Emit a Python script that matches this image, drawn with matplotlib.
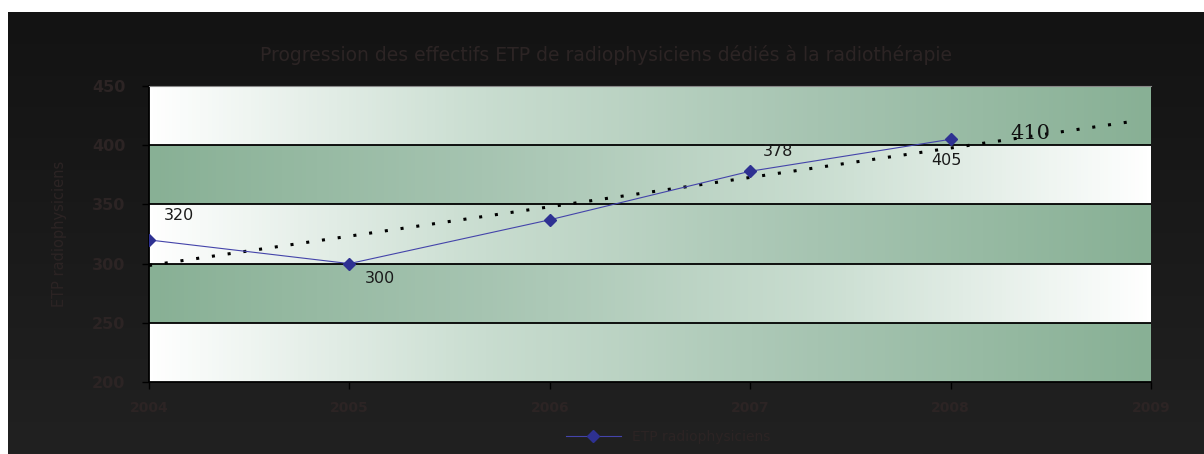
import numpy as np
import matplotlib
matplotlib.use("Agg")
import matplotlib.pyplot as plt
from matplotlib.colors import LinearSegmentedColormap

# effectifs ETP par année
annees = [2004, 2005, 2006, 2007, 2008]
effectifs = [320, 300, 337, 378, 405]
etiquettes = {2004: "320", 2005: "300", 2007: "378", 2008: "405"}
xticks = [2004, 2005, 2006, 2007, 2008, 2009]
yticks = [200, 250, 300, 350, 400, 450]
prevision = 410

fig = plt.figure(figsize=(12.04, 4.54), dpi=100)
fig.patch.set_facecolor("white")

# fond sombre en dégradé vertical
bg = fig.add_axes([8 / 1204, 0, 1 - 8 / 1204, (454 - 12) / 454], zorder=-10)
grad = np.linspace(0, 1, 256).reshape(-1, 1)
bg_cmap = LinearSegmentedColormap.from_list("bg", ["#131313", "#212121"])
bg.imshow(grad, aspect="auto", cmap=bg_cmap, extent=[0, 1, 1, 0])
bg.set_axis_off()

ax = fig.add_axes([149 / 1204, (454 - 382) / 454, (1151 - 149) / 1204, (382 - 86) / 454])
ax.set_xlim(2004, 2009)
ax.set_ylim(200, 450)

# bandes horizontales en dégradé blanc / vert
band_cmap = LinearSegmentedColormap.from_list("band", ["#ffffff", "#c9ddd0", "#a6c4b1", "#88b095"])
hgrad = np.linspace(0, 1, 256).reshape(1, -1)
for i, y0 in enumerate(yticks[:-1]):
    g = hgrad if i % 2 == 0 else hgrad[:, ::-1]
    ax.imshow(g, aspect="auto", cmap=band_cmap, extent=[2004, 2009, y0, y0 + 50], zorder=0)

for y in yticks[1:-1]:
    ax.axhline(y, color="black", lw=1.3, zorder=1)

ax.plot(annees, effectifs, color="#4444aa", lw=0.8, marker="D", ms=6,
        mfc="#2e3192", mec="#2e3192", zorder=4, label="ETP radiophysiciens")

# tendance linéaire prolongée
coef = np.polyfit(annees, effectifs, 1)
xt = np.array([2004, 2008.93])
ax.plot(xt, np.polyval(coef, xt), color="black", lw=2.2, ls=(0, (1, 4.2)), zorder=3)
ax.text(2008.4, prevision, str(prevision), family="DejaVu Serif", fontsize=15,
        ha="center", va="center", color="#111111", zorder=5)

offsets = {2004: (0.15, 21), 2005: (0.15, -13), 2007: (0.14, 17), 2008: (-0.02, -18)}
for x, y in zip(annees, effectifs):
    if x in etiquettes:
        dx, dy = offsets[x]
        ax.text(x + dx, y + dy, etiquettes[x], fontsize=11.5, ha="center", va="center",
                color="#1a1a1a", zorder=5)

txt = "#2c2424"
ax.set_xticks(xticks)
ax.set_yticks(yticks)
ax.tick_params(axis="both", colors="black", labelcolor=txt, length=5, width=1)
ax.tick_params(axis="y", labelsize=11.5, pad=12)
ax.tick_params(axis="x", labelsize=10, pad=9)
for lab in ax.get_yticklabels() + ax.get_xticklabels():
    lab.set_fontweight("bold")
ax.spines["right"].set_visible(False)
ax.spines["top"].set_color("#888888")
ax.spines["left"].set_linewidth(1.3)
ax.spines["bottom"].set_linewidth(1.3)

ax.set_ylabel("ETP radiophysiciens", color=txt, fontsize=10.5, labelpad=18)
fig.text(0.503, 0.878, "Progression des effectifs ETP de radiophysiciens dédiés à la radiothérapie",
         ha="center", va="center", color=txt, fontsize=13.5)

fig.legend(loc="center", bbox_to_anchor=(0.555, 0.038), frameon=False, fontsize=10,
           labelcolor=txt, handlelength=4)

fig.savefig("out.png", dpi=100, facecolor=fig.get_facecolor())
